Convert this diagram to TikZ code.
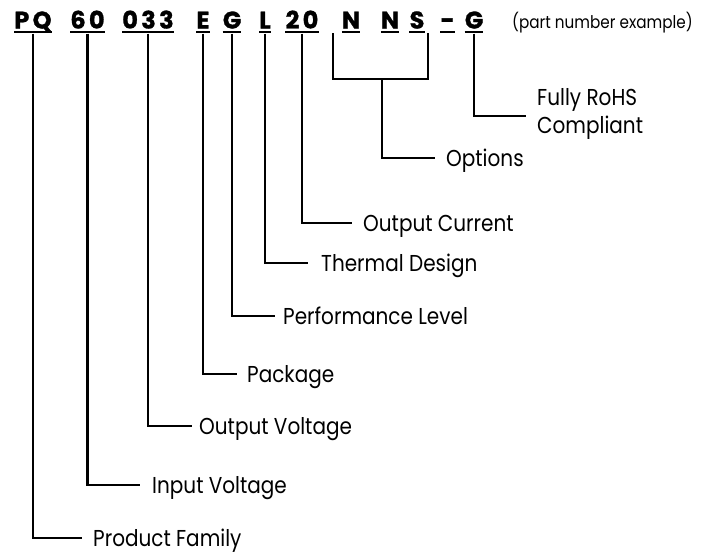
\documentclass[tikz,border=0pt]{standalone}
\usepackage{fontspec}
\setmainfont{Poppins}
\newfontfamily\labfont{Poppins}[FakeStretch=0.87]
\newfontfamily\pnfont{Poppins}[BoldFeatures={FakeBold=1.2}]
\newcommand{\gsp}{\hspace{0.14em}}
\begin{document}
\begin{tikzpicture}[x=1pt,y=-1pt,
  lab/.style={anchor=base west,font=\labfont\fontsize{23}{28}\selectfont,inner sep=0pt},
  pn/.style={anchor=base,font=\pnfont\bfseries\fontsize{24}{26}\selectfont,inner sep=0pt},
  conn/.style={line width=2.6pt},
  ul/.style={line width=1.8pt}]
\useasboundingbox (0,0) rectangle (709,554);
% part number groups
\node[pn] (pq) at (33,28.5) {P\gsp Q};
\node[pn] (v60) at (87.5,28.5) {6\gsp 0};
\node[pn] (v033) at (148,28.5) {0\gsp 3\gsp 3};
\node[pn] (e) at (203,28.5) {E};
\node[pn] (g) at (232,28.5) {G};
\node[pn] (l) at (265,28.5) {L};
\node[pn] (v20) at (302,28.5) {2\gsp 0};
\node[pn] (n1) at (351,28.5) {N};
\node[pn] (n2) at (390,28.5) {N};
\node[pn] (s) at (417,28.5) {S};
\node[pn] (dash) at (447.5,28.5) {-};
\node[pn] (g2) at (474,28.5) {G};
\node[anchor=base west,inner sep=0pt,font=\labfont\fontsize{17.5}{20}\selectfont] (ex) at (512,28) {(part number example)};
% underlines
\foreach \n in {pq,v60,v033,e,g,l,v20,n1,n2,s,dash,g2}
  \draw[ul] ([yshift=-3.5pt]\n.base west) -- ([yshift=-3.5pt]\n.base east);
% labels
\node[lab] (pf) at (93,546.5) {Product Family};
\node[lab] (iv) at (152,493.5) {Input Voltage};
\node[lab] (ov) at (199,434.5) {Output Voltage};
\node[lab] (pk) at (247,382.5) {Package};
\node[lab] (pl) at (283,324.5) {Performance Level};
\node[lab] (td) at (321,271.5) {Thermal Design};
\node[lab] (oc) at (363,231.5) {Output Current};
\node[lab] (op) at (446,166.5) {Options};
\node[lab,anchor=west,align=left] (rh) at (537,114) {Fully RoHS\\Compliant};
% connectors
\coordinate (bl) at (333,33);
\coordinate (br) at (428,33);
\coordinate (bm) at (382,79);
\draw[conn] ([yshift=-5pt]pq.base) |- ([xshift=-11pt,yshift=8.5pt]pf.base west);
\draw[conn] ([yshift=-5pt]v60.base) |- ([xshift=-12pt,yshift=8.5pt]iv.base west);
\draw[conn] ([yshift=-5pt]v033.base) |- ([xshift=-7pt,yshift=8.5pt]ov.base west);
\draw[conn] ([yshift=-5pt]e.base) |- ([xshift=-10pt,yshift=8.5pt]pk.base west);
\draw[conn] ([yshift=-5pt]g.base) |- ([xshift=-8pt,yshift=8.5pt]pl.base west);
\draw[conn] ([yshift=-5pt]l.base) |- ([xshift=-13pt,yshift=8.5pt]td.base west);
\draw[conn] ([yshift=-5pt]v20.base) |- ([xshift=-11pt,yshift=8.5pt]oc.base west);
\draw[conn] (bl) |- (bm) -| (br);
\draw[conn] (bm) |- ([xshift=-11pt,yshift=8.5pt]op.base west);
\draw[conn] ([yshift=-5pt]g2.base) |- ([xshift=-11pt,yshift=-2pt]rh.west);
\end{tikzpicture}
\end{document}
